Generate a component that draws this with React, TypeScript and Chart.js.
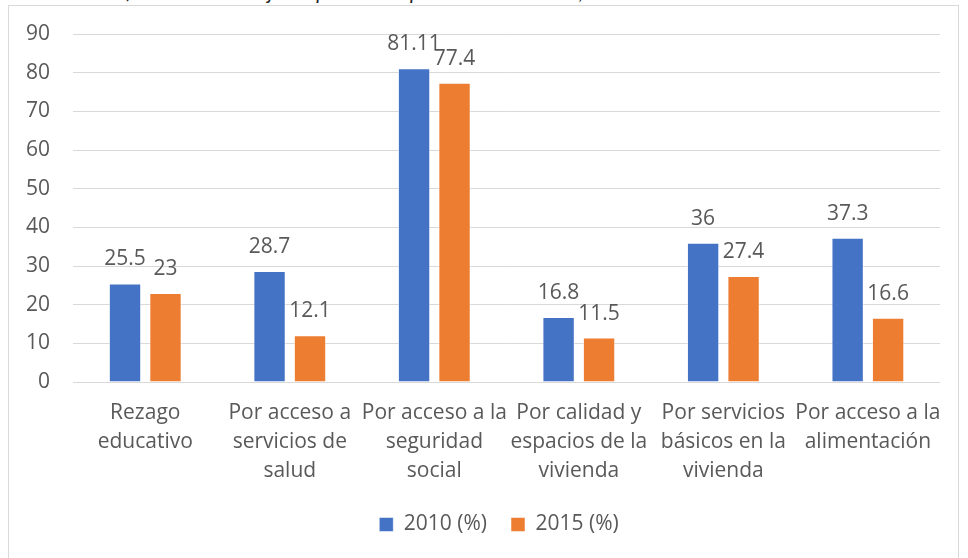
import React, { useEffect, useRef } from "react";
import { Chart, registerables } from "chart.js";

Chart.register(...registerables);

const categories: string[][] = [
  ["Rezago", "educativo"],
  ["Por acceso a", "servicios de", "salud"],
  ["Por acceso a la", "seguridad", "social"],
  ["Por calidad y", "espacios de la", "vivienda"],
  ["Por servicios", "básicos en la", "vivienda"],
  ["Por acceso a la", "alimentación"],
];
const values2010: number[] = [25.5, 28.7, 81.11, 16.8, 36, 37.3];
const values2015: number[] = [23, 12.1, 77.4, 11.5, 27.4, 16.6];
const seriesNames: string[] = ["2010 (%)", "2015 (%)"];
const titleText = "Gráfica 1. Porcentaje de población por carencia social, 2010 - 2015";

const FONT = "'Open Sans', Lato, sans-serif";
const TEXT = "#595959";

const dataLabels = {
  id: "dataLabels",
  afterDatasetsDraw(chart: any) {
    const ctx = chart.ctx;
    ctx.save();
    ctx.font = `21px ${FONT}`;
    ctx.fillStyle = TEXT;
    ctx.textAlign = "center";
    ctx.textBaseline = "alphabetic";
    chart.data.datasets.forEach((ds: any, i: number) => {
      const meta = chart.getDatasetMeta(i);
      meta.data.forEach((bar: any, j: number) => {
        ctx.fillText(String(ds.data[j]), bar.x, bar.y - 18);
      });
    });
    ctx.restore();
  },
};

const legendShift = {
  id: "legendShift",
  afterLayout(chart: any) {
    const lg = chart.legend;
    if (lg) {
      lg.left += 19;
      lg.right += 19;
    }
  },
};

export default function App() {
  const ref = useRef<HTMLCanvasElement | null>(null);

  useEffect(() => {
    if (!ref.current) return;
    const chart = new Chart(ref.current, {
      type: "bar",
      data: {
        labels: categories,
        datasets: [
          {
            label: seriesNames[0],
            data: values2010,
            backgroundColor: "#4472C4",
            borderColor: "rgba(255,255,255,0.5)",
            borderWidth: 1,
          },
          {
            label: seriesNames[1],
            data: values2015,
            backgroundColor: "#ED7D31",
            borderColor: "rgba(255,255,255,0.5)",
            borderWidth: 1,
          },
        ],
      },
      options: {
        animation: false,
        responsive: false,
        maintainAspectRatio: false,
        devicePixelRatio: 1,
        categoryPercentage: 0.56,
        barPercentage: 0.8,
        layout: { padding: { left: 0, right: 7, top: 28, bottom: 13 } },
        plugins: {
          legend: {
            position: "bottom",
            labels: {
              boxWidth: 14,
              boxHeight: 14,
              padding: 24,
              color: TEXT,
              font: { family: FONT, size: 21 },
            },
          },
          tooltip: { enabled: false },
          title: { display: false },
        },
        scales: {
          x: {
            grid: { display: false, drawTicks: false },
            border: { display: false },
            ticks: {
              color: TEXT,
              font: { family: FONT, size: 21, lineHeight: 1.38 },
              padding: 17,
              maxRotation: 0,
              autoSkip: false,
            },
            afterFit: (scale: any) => {
              scale.height = 108;
            },
          },
          y: {
            min: 0,
            max: 90,
            grid: { color: "#d9d9d9", lineWidth: 1, drawTicks: false },
            border: { display: false },
            ticks: {
              stepSize: 10,
              color: TEXT,
              font: { family: FONT, size: 21 },
              padding: 23,
            },
            afterFit: (scale: any) => {
              scale.width = 64;
              scale.paddingTop = 0;
              scale.paddingBottom = 0;
            },
          },
        },
      },
      plugins: [dataLabels, legendShift],
    });
    return () => chart.destroy();
  }, []);

  return (
    <div
      style={{
        position: "fixed",
        left: 0,
        top: 0,
        width: 968,
        height: 558,
        overflow: "hidden",
        background: "#ffffff",
      }}
    >
      <div
        style={{
          position: "absolute",
          left: 93,
          top: -22,
          width: 710,
          fontFamily: "Lato, sans-serif",
          fontStyle: "italic",
          fontSize: 21,
          color: "#262626",
          whiteSpace: "nowrap",
          letterSpacing: "0.4px",
        }}
      >
        {titleText}
      </div>
      <div
        style={{
          position: "absolute",
          left: 8,
          top: 5,
          width: 949,
          height: 600,
          border: "1px solid #d9d9d9",
          background: "#ffffff",
        }}
      >
        <canvas ref={ref} width={949} height={552} style={{ display: "block" }} />
      </div>
    </div>
  );
}
